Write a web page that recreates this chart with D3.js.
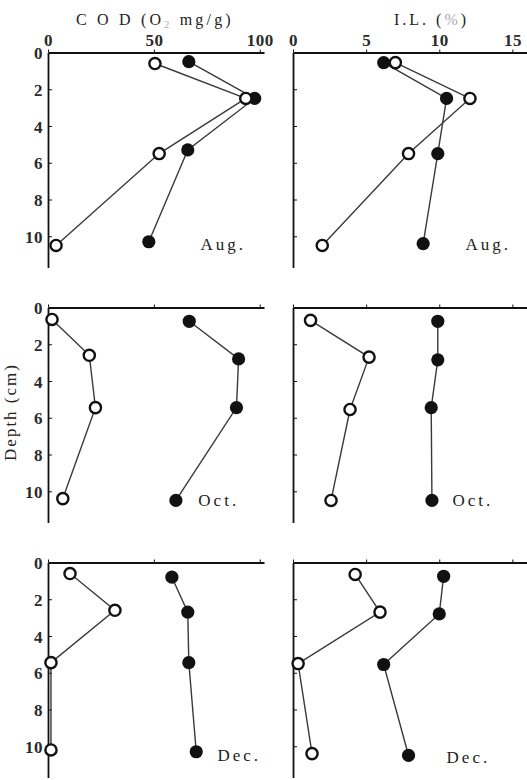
<!DOCTYPE html>
<meta charset="utf-8">
<style>
body { margin:0; background:#fff; }
svg text { font-family:"Liberation Serif", "DejaVu Serif", serif; fill:#222; }
.axis path, .axis line { stroke:#111; }
.axis text { font-size:17px; font-weight:bold; letter-spacing:0.5px; fill:#2a2a2a; }
</style>
<body>
<script src="https://d3js.org/d3.v7.min.js"></script>
<script>
// values; open circles and filled circles, depth in cm
var months = ["Aug.", "Oct.", "Dec."];

var codOpen   = [[50.5, 93.4, 52.5, 3.8], [1.9, 19.5, 22.4, 7.0], [10.4, 31.6, 1.4, 1.4]];
var codOpenD  = [[0.6, 2.5, 5.5, 10.5],  [0.65, 2.6, 5.45, 10.4], [0.6, 2.6, 5.45, 10.2]];
var codFill   = [[66.5, 97.6, 66.0, 47.6], [66.7, 90.0, 89.0, 60.4], [58.5, 66.0, 66.5, 70.0]];
var codFillD  = [[0.5, 2.5, 5.3, 10.3],  [0.75, 2.8, 5.45, 10.5], [0.8, 2.7, 5.45, 10.3]];

var ilOpen    = [[7.0, 12.1, 7.9, 2.0], [1.2, 5.2, 3.9, 2.6], [4.25, 5.95, 0.35, 1.3]];
var ilOpenD   = [[0.55, 2.5, 5.5, 10.5], [0.7, 2.7, 5.55, 10.5], [0.65, 2.7, 5.5, 10.4]];
var ilFill    = [[6.2, 10.5, 9.9, 8.9], [9.9, 9.9, 9.45, 9.5], [10.3, 10.0, 6.2, 7.9]];
var ilFillD   = [[0.55, 2.5, 5.5, 10.4], [0.75, 2.85, 5.45, 10.5], [0.75, 2.8, 5.55, 10.5]];

var codTicks = [0, 50, 100];
var ilTicks = [0, 5, 10, 15];
var depthTicks = [0, 2, 4, 6, 8, 10];

// where the month label sits, in data units of each panel
var codLabel = [[72, 10.4], [71, 10.5], [80, 10.5]];
var ilLabel  = [[11.8, 10.4], [10.9, 10.5], [10.5, 10.6]];

var width = 527, height = 780;
var rowTop = [52.5, 307.5, 562.5];

var svg = d3.select("body").append("svg")
    .attr("width", width)
    .attr("height", height);

var xCod = d3.scaleLinear().domain([0, 102]).range([48, 264]);
var xIl = d3.scaleLinear().domain([0, 16]).range([293, 527]);

function panel(row, x, opens, openD, fills, fillD, ticks, showY, lab) {
  var top = rowTop[row];
  var y = d3.scaleLinear().domain([0, 11.7]).range([top, top + 215]);
  var g = svg.append("g");

  var gx = g.append("g")
      .attr("class", "axis")
      .attr("transform", "translate(0," + top + ")")
      .call(d3.axisTop(x).tickValues(ticks).tickSize(3).tickSizeOuter(0).tickPadding(4)
        .tickFormat(row == 0 ? d3.format("d") : ""));
  gx.select(".domain").attr("stroke-width", 1.8);

  var gy = g.append("g")
      .attr("class", "axis")
      .attr("transform", "translate(" + x.range()[0] + ",0)")
      .call(d3.axisLeft(y).tickValues(depthTicks).tickSize(-4).tickSizeOuter(0).tickPadding(5)
        .tickFormat(showY ? d3.format("d") : ""));
  gy.select(".domain").attr("stroke-width", 1.8);
  gy.selectAll(".tick text").attr("dy", "0.36em");
  gy.selectAll(".tick").filter(function(d) { return d == 0; }).select("line").remove();

  var line = d3.line()
      .x(function(d) { return x(d[0]); })
      .y(function(d) { return y(d[1]); });

  var fp = d3.zip(fills, fillD), op = d3.zip(opens, openD);

  g.append("path").datum(fp)
      .attr("d", line).attr("fill", "none")
      .attr("stroke", "#3a3a3a").attr("stroke-width", 1.4);
  g.append("path").datum(op)
      .attr("d", line).attr("fill", "none")
      .attr("stroke", "#3a3a3a").attr("stroke-width", 1.4);

  g.selectAll(".fill").data(fp).enter().append("circle")
      .attr("cx", function(d) { return x(d[0]); })
      .attr("cy", function(d) { return y(d[1]); })
      .attr("r", 6.6).attr("fill", "#111");
  g.selectAll(".open").data(op).enter().append("circle")
      .attr("cx", function(d) { return x(d[0]); })
      .attr("cy", function(d) { return y(d[1]); })
      .attr("r", 5.6).attr("fill", "#fff")
      .attr("stroke", "#111").attr("stroke-width", 2.4);

  g.append("text")
      .attr("x", x(lab[0]))
      .attr("y", y(lab[1]) + 6)
      .attr("font-size", "17px")
      .attr("letter-spacing", "3px")
      .attr("fill", "#333")
      .text(months[row]);
}

for (var i = 0; i < 3; i++) {
  panel(i, xCod, codOpen[i], codOpenD[i], codFill[i], codFillD[i], codTicks, true, codLabel[i]);
  panel(i, xIl, ilOpen[i], ilOpenD[i], ilFill[i], ilFillD[i], ilTicks, false, ilLabel[i]);
}

// titles
var t1 = svg.append("text")
    .attr("x", 76).attr("y", 25)
    .attr("font-size", "16px")
    .attr("letter-spacing", "3.2px")
    .attr("fill", "#333");
t1.append("tspan").text("C O D (O");
t1.append("tspan").attr("font-size", "10px").attr("dy", 3).attr("fill", "#aaa").text("2");
t1.append("tspan").attr("dy", -3).text(" mg/g)");

var t2 = svg.append("text")
    .attr("x", 394).attr("y", 25)
    .attr("font-size", "16px")
    .attr("letter-spacing", "3px")
    .attr("fill", "#333");
t2.append("tspan").text("I.L. (");
t2.append("tspan").attr("fill", "#aaa").text("%");
t2.append("tspan").text(")");

svg.append("text")
    .attr("transform", "translate(16,412) rotate(-90)")
    .attr("text-anchor", "middle")
    .attr("font-size", "17px")
    .attr("letter-spacing", "2px")
    .attr("fill", "#333")
    .text("Depth (cm)");
</script>
</body>
</html>
